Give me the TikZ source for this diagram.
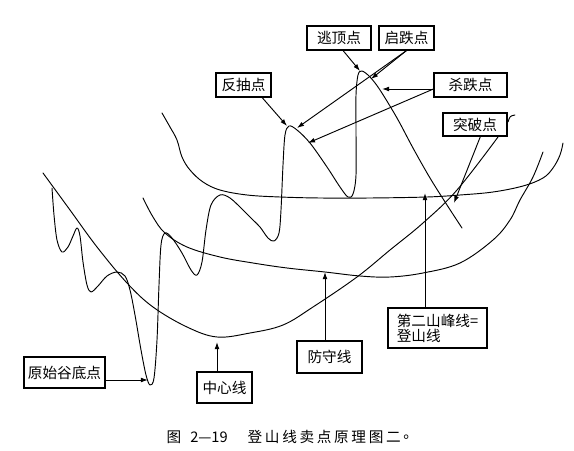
\documentclass[tikz,border=0pt]{standalone}
\usepackage{fontspec}
\setmainfont{Noto Sans CJK SC}
\usetikzlibrary{arrows.meta,calc}

\begin{document}
\begin{tikzpicture}[
    x=0.03cm, y=-0.03cm,
    every node/.style={font=\fontsize{12.5}{14}\selectfont},
    lbl/.style={draw, line width=1pt, inner sep=2pt, align=left},
    curve/.style={line width=0.8pt, line join=round, line cap=round},
    ptr/.style={line width=0.8pt, -{Latex[length=6pt,width=4pt]}},
    capchar/.style={inner sep=0pt, font=\fontsize{12.5}{14}\selectfont},
]

\fill[white] (0,0) rectangle (574,451);

% Price curve
\draw[curve] plot[smooth, tension=0.55] coordinates {
  (52,188) (54,215) (57,240) (62,252) (68,247) (73,236) (77,228) (80,236)
  (83,262) (87,285) (91,292) (98,286) (107,276) (117,272) (125,276) (130,290)
  (135,315) (141,350) (146,375) (150,385) (154,378) (157,340) (159,285)
  (161,245) (165,233) (172,238) (182,253) (191,270) (197,275) (202,262)
  (206,230) (211,205) (220,195) (230,198) (243,210) (253,220) (260,227)
  (268,238) (274,241) (279,233) (281,210) (283,165) (285,135) (289,126)
  (297,130) (310,143) (327,167) (340,187) (348,197) (353,194) (356,175)
  (356,130) (356,95) (358,75) (362,71) (370,77) (380,90) (397,118)
  (413,148) (430,178) (447,205) (462,228)};

% Upper mountain line
\draw[curve] plot[smooth, tension=0.6] coordinates {
  (162,113) (170,127) (177,140) (182,157) (190,170) (203,182) (220,190)
  (247,195) (280,197) (320,198) (370,198) (427,197) (460,195) (493,192)
  (523,186) (543,178) (553,168) (560,155) (563,143)};

% Defence line
\draw[curve] plot[smooth, tension=0.6] coordinates {
  (143,198) (153,217) (165,233) (187,247) (220,257) (253,263) (287,268)
  (325,272) (360,276) (390,277) (423,273) (460,263) (493,240) (510,220)
  (520,200) (533,177) (543,152)};

% Centre line
\draw[curve] plot[smooth, tension=0.6] coordinates {
  (43,173) (70,210) (97,247) (127,283) (153,307) (187,327) (217,337)
  (250,333) (283,325) (313,307) (357,277) (390,250) (423,223) (457,190)
  (498,137)};
\draw[curve] (508,122) .. controls (510,116) .. (515,115);

% Labels
\node[lbl, minimum width=1.65cm, minimum height=0.72cm] (fanchou) at (243.5,85) {反抽点};
\node[lbl, minimum width=1.92cm, minimum height=0.72cm] (taoding) at (339,38) {逃顶点};
\node[lbl, minimum width=1.65cm, minimum height=0.72cm] (qidie) at (406.5,38) {启跌点};
\node[lbl, minimum width=2.19cm, minimum height=0.72cm] (shadie) at (470.5,85) {杀跌点};
\node[lbl, minimum width=1.92cm, minimum height=0.69cm] (tupo) at (475,124.5) {突破点};
\node[lbl, minimum width=2.43cm, minimum height=0.93cm, inner sep=0pt] (gudi) at (64.5,372.5) {原始谷底点};
\node[lbl, minimum width=1.65cm, minimum height=0.93cm] (zhongxin) at (224.5,387.5) {中心线};
\node[lbl, minimum width=1.95cm, minimum height=0.96cm] (fangshou) at (329.5,357) {防守线};
\node[lbl, minimum width=2.97cm, minimum height=1.2cm,
      font=\fontsize{12.5}{13}\selectfont] (dengshan) at (437.5,328) {第二山峰线=\\登山线};

% Arrow tips
\coordinate (fcTip) at (287,126);
\coordinate (tdTip) at (360,71);
\coordinate (qdTipA) at (371,79);
\coordinate (qdTipB) at (297,128);
\coordinate (sdTipA) at (382,89);
\coordinate (sdTipB) at (308,143);
\coordinate (tpTip) at (454,203);
\coordinate (gdTip) at (148,380);
\coordinate (zxTip) at (217,342);
\coordinate (fsTip) at (325,272);
\coordinate (dsTip) at (425,193);

% Pointers
\draw[ptr] (fanchou.-34) -- (fcTip);
\draw[ptr] (taoding.-72) -- (tdTip);
\draw[ptr] (qidie.south) -- (qdTipA);
\draw[ptr] (qidie.south) -- (qdTipB);
\draw[ptr] (shadie.west |- sdTipA) -- (sdTipA);
\draw[ptr] (shadie.west |- sdTipA) -- (sdTipB);
\draw[ptr] (tupo.-66) -- (tpTip);
\draw[ptr] (gudi.east |- gdTip) -- (gdTip);
\draw[ptr] (zhongxin.north -| zxTip) -- (zxTip);
\draw[ptr] (fangshou.north -| fsTip) -- (fsTip);
\draw[ptr] (dengshan.north -| dsTip) -- (dsTip);

% Caption
\node[capchar] (capfig) at (174,437) {图};
\node[capchar] (capnum) at (209,437) {2—19};
\foreach \ch [count=\i from 0] in {登,山,线,卖,点,原,理,图,二,。}
  \node[capchar] (cap\i) at (255+17.3*\i,437) {\ch};

\end{tikzpicture}
\end{document}
